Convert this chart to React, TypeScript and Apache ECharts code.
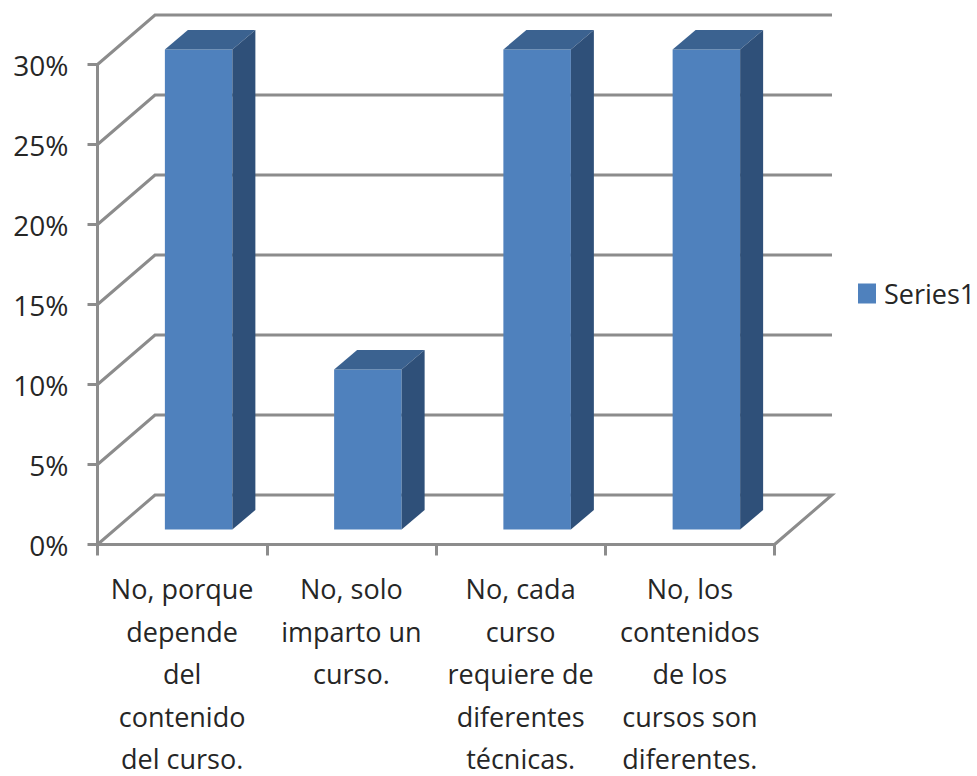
import React, { useEffect, useRef } from "react";
import * as echarts from "echarts";

const categories = [
  "No, porque\ndepende\ndel\ncontenido\ndel curso.",
  "No, solo\nimparto un\ncurso.",
  "No, cada\ncurso\nrequiere de\ndiferentes\ntécnicas.",
  "No, los\ncontenidos\nde los\ncursos son\ndiferentes.",
];
const seriesName = "Series1";
const seriesValues = [30, 10, 30, 30];
const gridTicks = [0, 5, 10, 15, 20, 25, 30];

const FONT = "Open Sans";
const LINE = "#8c8c8c";
const WALL_DX = 57.5;
const WALL_DY = 49.5;
const BAR_W = 67.5;
const BAR_DX = 16.5;
const BAR_DY = 15;
const DEPTH_X = 23;
const DEPTH_Y = 19.5;

export default function App() {
  const ref = useRef<HTMLDivElement>(null);
  useEffect(() => {
    const chart = echarts.init(ref.current!, null, { renderer: "svg" });
    chart.setOption({
      animation: false,
      backgroundColor: "#ffffff",
      textStyle: { fontFamily: FONT },
      legend: {
        show: true,
        data: [{ name: seriesName, icon: "rect" }],
        left: 858,
        top: 280,
        itemWidth: 18,
        itemHeight: 20,
        itemGap: 0,
        padding: 0,
        textStyle: { fontFamily: FONT, fontSize: 27, color: "#262626", padding: [0, 0, 0, 3] },
      },
      grid: { left: 97.5, top: 64.5, width: 677, height: 480, outerBoundsMode: "none", containLabel: false },
      xAxis: {
        type: "category",
        data: categories,
        axisLine: { lineStyle: { color: LINE, width: 3 } },
        axisTick: { show: true, length: 11, alignWithLabel: false, lineStyle: { color: LINE, width: 3 } },
        axisLabel: { fontFamily: FONT, fontSize: 27, lineHeight: 42.5, color: "#262626", margin: 23, interval: 0 },
        splitLine: { show: false },
      },
      yAxis: {
        type: "value",
        min: 0,
        max: 30,
        interval: 5,
        axisLine: { show: true, lineStyle: { color: LINE, width: 3 } },
        axisTick: { show: true, length: 10, lineStyle: { color: LINE, width: 3 } },
        axisLabel: { fontFamily: FONT, fontSize: 28, color: "#262626", margin: 29, formatter: "{value}%" },
        splitLine: { show: false },
      },
      series: [
        {
          type: "custom",
          name: "walls",
          silent: true,
          z: 1,
          data: gridTicks.map((v) => [0, v]),
          renderItem: (params: any, api: any) => {
            const cs = params.coordSys;
            const y = api.coord([0, api.value(1)])[1];
            const x0 = cs.x;
            const x1 = cs.x + cs.width;
            return {
              type: "polyline",
              shape: {
                points: [
                  [x0, y],
                  [x0 + WALL_DX, y - WALL_DY],
                  [x1 + WALL_DX, y - WALL_DY],
                  ...(api.value(1) === 0 ? [[x1, y]] : []),
                ],
              },
              style: { stroke: LINE, lineWidth: 3, fill: "none" },
            };
          },
        },
        {
          type: "custom",
          name: seriesName,
          silent: true,
          z: 2,
          itemStyle: { color: "#4f81bd" },
          data: seriesValues.map((v, i) => [i, v]),
          renderItem: (_params: any, api: any) => {
            const top = api.coord([api.value(0), api.value(1)]);
            const base = api.coord([api.value(0), 0]);
            const l = top[0] + BAR_DX - BAR_W / 2;
            const r = l + BAR_W;
            const t = top[1] - BAR_DY;
            const b = base[1] - BAR_DY;
            return {
              type: "group",
              children: [
                {
                  type: "rect",
                  shape: { x: l, y: t, width: BAR_W, height: b - t },
                  style: { fill: "#4f81bd" },
                },
                {
                  type: "polygon",
                  shape: { points: [[l, t], [l + DEPTH_X, t - DEPTH_Y], [r + DEPTH_X, t - DEPTH_Y], [r, t]] },
                  style: { fill: "#3b6290" },
                },
                {
                  type: "polygon",
                  shape: { points: [[r, t], [r + DEPTH_X, t - DEPTH_Y], [r + DEPTH_X, b - DEPTH_Y], [r, b]] },
                  style: { fill: "#2f5079" },
                },
              ],
            };
          },
        },
      ],
    });
    return () => chart.dispose();
  }, []);
  return <div ref={ref} style={{ position: "absolute", left: 0, top: 0, width: 977, height: 776 }} />;
}
